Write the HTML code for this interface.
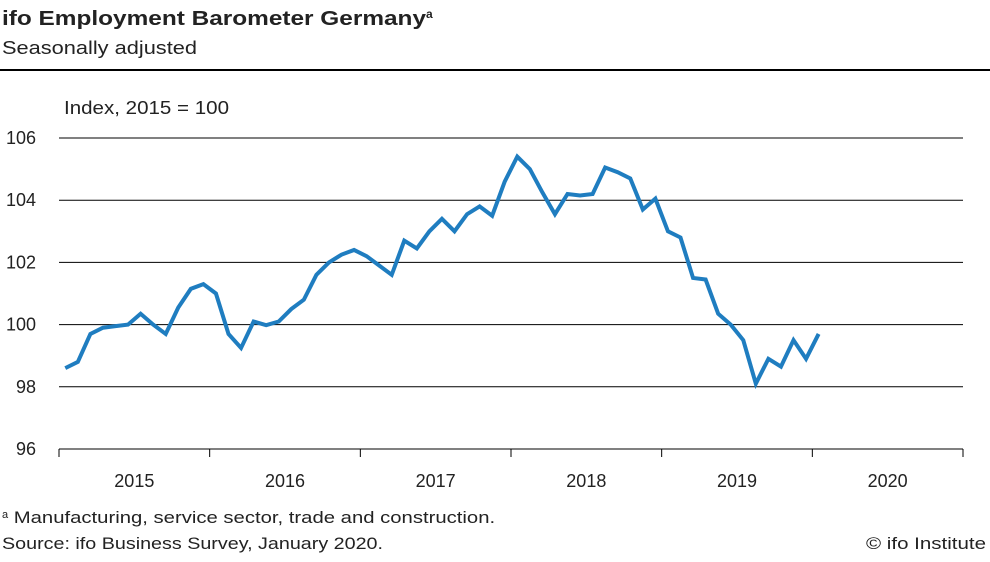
<!DOCTYPE html>
<html><head><meta charset="utf-8"><style>
body{margin:0;background:#fff;width:990px;height:557px;overflow:hidden;font-family:"Liberation Sans",sans-serif;color:#222}
svg text{font-family:"Liberation Sans",sans-serif;fill:#222}
</style></head><body>
<svg width="990" height="557">
<text x="2" y="25" font-size="20" font-weight="bold"><tspan textLength="424" lengthAdjust="spacingAndGlyphs">ifo Employment Barometer Germany</tspan><tspan font-size="12" dy="-7">a</tspan></text>
<text x="2" y="54" font-size="18" textLength="195" lengthAdjust="spacingAndGlyphs">Seasonally adjusted</text>
<line x1="0" y1="70" x2="990" y2="70" stroke="#000" stroke-width="2"/>
<text x="64" y="114" font-size="18" textLength="165" lengthAdjust="spacingAndGlyphs">Index, 2015 = 100</text>
<g id="grid"></g><g id="axis"></g><g id="series"></g>
<text x="2" y="523" font-size="17"><tspan font-size="11" dy="-5">a</tspan><tspan dy="5" textLength="487" lengthAdjust="spacingAndGlyphs"> Manufacturing, service sector, trade and construction.</tspan></text>
<text x="2" y="549" font-size="17" textLength="381" lengthAdjust="spacingAndGlyphs">Source: ifo Business Survey, January 2020.</text>
<text x="866" y="549" font-size="17" textLength="120" lengthAdjust="spacingAndGlyphs">© ifo Institute</text>
</svg>
<script>
const years=[2015,2016,2017,2018,2019,2020];
const yTicks=[96,98,100,102,104,106];
const values=[98.6,98.8,99.7,99.9,99.95,100.0,100.35,100.0,99.7,100.55,101.15,101.3,
101.0,99.7,99.25,100.1,99.98,100.1,100.5,100.8,101.6,102.0,102.25,102.4,
102.2,101.9,101.6,102.7,102.45,103.0,103.4,103.0,103.55,103.8,103.5,104.6,
105.4,105.0,104.25,103.55,104.2,104.15,104.2,105.05,104.9,104.7,103.7,104.05,
103.0,102.8,101.5,101.45,100.35,100.0,99.5,98.1,98.9,98.65,99.5,98.9,
99.7];
const X0=59,X1=963,Y0=449,Y1=138;
const mw=(X1-X0)/(years.length*12);
const xs=i=>X0+(i+0.5)*mw;
const ys=v=>Y0-(v-96)/(106-96)*(Y0-Y1);
const NS="http://www.w3.org/2000/svg";
function mk(t,a,p){const e=document.createElementNS(NS,t);for(const k in a)e.setAttribute(k,a[k]);p.appendChild(e);return e;}
const g=document.getElementById('grid'),ax=document.getElementById('axis'),s=document.getElementById('series');
yTicks.forEach(v=>{
 if(v>96){const l=mk('line',{x1:X0,x2:X1,y1:ys(v),y2:ys(v),stroke:'#000','stroke-width':1},g);
 
 }
 const t=mk('text',{x:36,y:ys(v)+6,'font-size':18,'text-anchor':'end'},ax);t.textContent=v;
 
 
});
const a=mk('line',{x1:X0,x2:X1,y1:Y0,y2:Y0,stroke:'#000','stroke-width':1},ax);


for(let k=0;k<=years.length;k++){const x=X0+k*12*mw;
 const tk=mk('line',{x1:x,x2:x,y1:Y0,y2:Y0+8,stroke:'#000'},ax);
 
 }
years.forEach((y,k)=>{const t=mk('text',{x:X0+(k+0.5)*12*mw,y:487,'font-size':18,'text-anchor':'middle'},ax);t.textContent=y;
 
 });
const p=mk('polyline',{points:values.map((v,i)=>xs(i)+','+ys(v)).join(' '),fill:'none',stroke:'#1f7dc0','stroke-width':4,'stroke-linejoin':'miter','stroke-miterlimit':3},s);


</script>
</body></html>
